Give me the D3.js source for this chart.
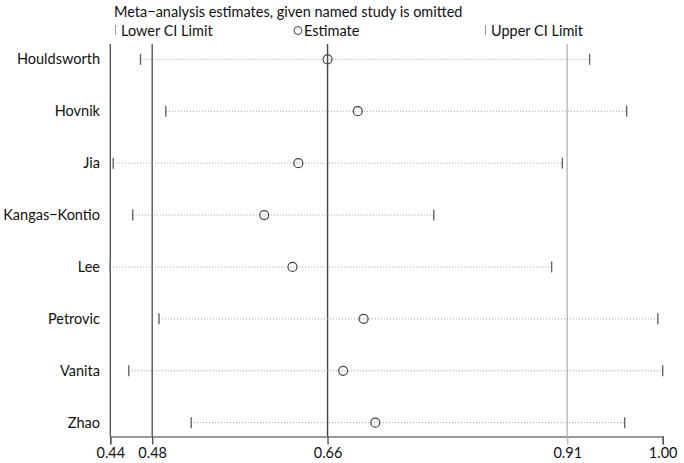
<!DOCTYPE html>
<html>
<head>
<meta charset="utf-8">
<script src="https://cdn.jsdelivr.net/npm/d3@7"></script>
<style>
  body { margin: 0; background: #fff; }
  svg { display: block; font-family: Lato, "Noto Sans", sans-serif; }
</style>
</head>
<body>
<div id="chart"></div>
<script>
'use strict';
// studies omitted one at a time
const studies = ["Houldsworth", "Hovnik", "Jia", "Kangas\u2212Kontio", "Lee", "Petrovic", "Vanita", "Zhao"];
const estimates = [0.660, 0.691, 0.630, 0.595, 0.624, 0.697, 0.676, 0.709];
const lowerCI = [0.468, 0.494, 0.440, 0.460, 0.437, 0.487, 0.456, 0.520];
const upperCI = [0.929, 0.967, 0.901, 0.769, 0.890, 0.999, 1.004, 0.965];

// overall summary: axis min, lower CI, estimate, upper CI, axis max
const tickValues = [0.437, 0.480, 0.660, 0.906, 1.004];
const tickLabels = ["0.44", "0.48", "0.66", "0.91", "1.00"];

const width = 684, height = 463;
const plotLeft = 110.3, plotRight = 662.7;
const plotTop = 44, axisY = 436.5;

const svg = d3.select("#chart").append("svg")
  .attr("width", width)
  .attr("height", height);

let x = d3.scaleLinear()
  .domain([tickValues[0], tickValues[tickValues.length - 1]])
  .range([plotLeft, plotRight]);

let y = d3.scalePoint()
  .domain(studies)
  .range([59.3, 422.7]);

// title + legend
svg.append("text")
  .attr("x", 114).attr("y", 17)
  .attr("font-size", 14.5).attr("fill", "#111")
  .text("Meta\u2212analysis estimates, given named study is omitted");

const legend = svg.append("g").attr("transform", "translate(0,36)");
legend.append("line")
  .attr("x1", 115.5).attr("x2", 115.5).attr("y1", -11).attr("y2", -1)
  .attr("stroke", "#999").attr("stroke-width", 1);
legend.append("text").attr("x", 121).attr("font-size", 14.5).attr("fill", "#111")
  .text("Lower CI Limit");
legend.append("circle")
  .attr("cx", 298).attr("cy", -5.5).attr("r", 4)
  .attr("fill", "none").attr("stroke", "#444").attr("stroke-width", 1);
legend.append("text").attr("x", 304).attr("font-size", 14.5).attr("fill", "#111")
  .text("Estimate");
legend.append("line")
  .attr("x1", 485.5).attr("x2", 485.5).attr("y1", -11).attr("y2", -1)
  .attr("stroke", "#999").attr("stroke-width", 1);
legend.append("text").attr("x", 491).attr("font-size", 14.5).attr("fill", "#111")
  .text("Upper CI Limit");

// reference lines at overall estimate and its CI, plus the left border
const refLines = [
  { v: tickValues[0], color: "#555" },
  { v: tickValues[1], color: "#555" },
  { v: tickValues[2], color: "#444" },
  { v: tickValues[3], color: "#bbb" }
];
svg.append("g").selectAll("line")
  .data(refLines)
  .join("line")
  .attr("x1", d => x(d.v)).attr("x2", d => x(d.v))
  .attr("y1", plotTop).attr("y2", axisY)
  .attr("stroke", d => d.color)
  .attr("stroke-width", 1.4);

// bottom axis
let axis = d3.axisBottom(x)
  .tickValues(tickValues)
  .tickFormat((d, i) => tickLabels[i])
  .tickSizeOuter(0)
  .tickSize(8)
  .tickPadding(2);
let axisG = svg.append("g")
  .attr("transform", "translate(0," + axisY + ")")
  .call(axis);
axisG.select(".domain").attr("stroke", "#777").attr("stroke-width", 1.4);
axisG.selectAll(".tick line").attr("stroke", "#555").attr("stroke-width", 1.4);
axisG.selectAll(".tick line").filter((d, i) => i === 3).attr("stroke", "#bbb");
axisG.selectAll(".tick text")
  .attr("font-size", 14.5).attr("fill", "#111")
  .attr("font-family", "Lato, 'Noto Sans', sans-serif")
  .attr("dy", "0.8em");

// study rows
const rows = svg.append("g").selectAll("g")
  .data(studies)
  .join("g")
  .attr("transform", d => "translate(0," + y(d) + ")");

rows.append("text")
  .attr("x", 100).attr("dy", "0.35em")
  .attr("text-anchor", "end")
  .attr("font-size", 14.5).attr("fill", "#111")
  .text(d => d);

rows.append("line")
  .attr("x1", (d, i) => x(lowerCI[i])).attr("x2", (d, i) => x(upperCI[i]))
  .attr("stroke", "#999").attr("stroke-width", 1)
  .attr("stroke-dasharray", "1,2");

rows.append("line")
  .attr("x1", (d, i) => x(lowerCI[i])).attr("x2", (d, i) => x(lowerCI[i]))
  .attr("y1", -5.5).attr("y2", 5.5)
  .attr("stroke", "#666").attr("stroke-width", 1.4);

rows.append("line")
  .attr("x1", (d, i) => x(upperCI[i])).attr("x2", (d, i) => x(upperCI[i]))
  .attr("y1", -5.5).attr("y2", 5.5)
  .attr("stroke", "#666").attr("stroke-width", 1.4);

rows.append("circle")
  .attr("cx", (d, i) => x(estimates[i]))
  .attr("r", 4.5)
  .attr("fill", "none").attr("stroke", "#444").attr("stroke-width", 1.2);
</script>
</body>
</html>
